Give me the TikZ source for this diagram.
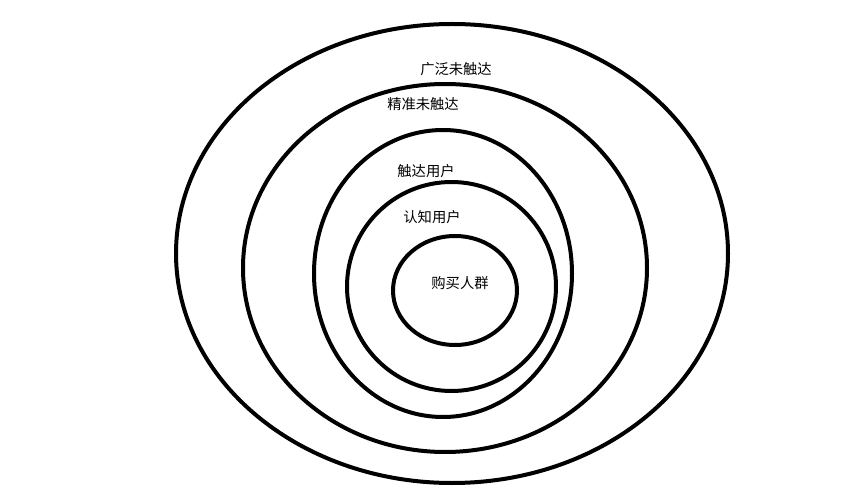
\documentclass[tikz,border=0pt]{standalone}
\usepackage{fontspec}
\newfontfamily\cjk{Noto Sans CJK SC}
\begin{document}
\begin{tikzpicture}[x=1pt,y=-1pt,
  ring/.style={draw=black,line width=4pt,ellipse,fill=none},
  lbl/.style={font=\cjk\fontsize{14.3}{16}\selectfont,inner sep=0pt,text=black}]
\useasboundingbox[fill=white] (0,0) rectangle (844,489);
\draw[line width=4pt] (452,253.5) ellipse [x radius=276, y radius=229.5];
\draw[line width=4pt] (445,268) ellipse [x radius=202, y radius=184];
\draw[line width=4pt] (443,273.5) ellipse [x radius=129, y radius=143.5];
\draw[line width=4pt] (451.5,286.5) ellipse [x radius=104.5, y radius=104.5];
\draw[line width=4pt] (455,290.5) ellipse [x radius=62, y radius=54.5];
\node[lbl] (t1) at (456,69) {广泛未触达};
\node[lbl] (t2) at (423,104) {精准未触达};
\node[lbl] (t3) at (426,171) {触达用户};
\node[lbl] (t4) at (432,217) {认知用户};
\node[lbl] (t5) at (460,283) {购买人群};
\end{tikzpicture}
\end{document}
